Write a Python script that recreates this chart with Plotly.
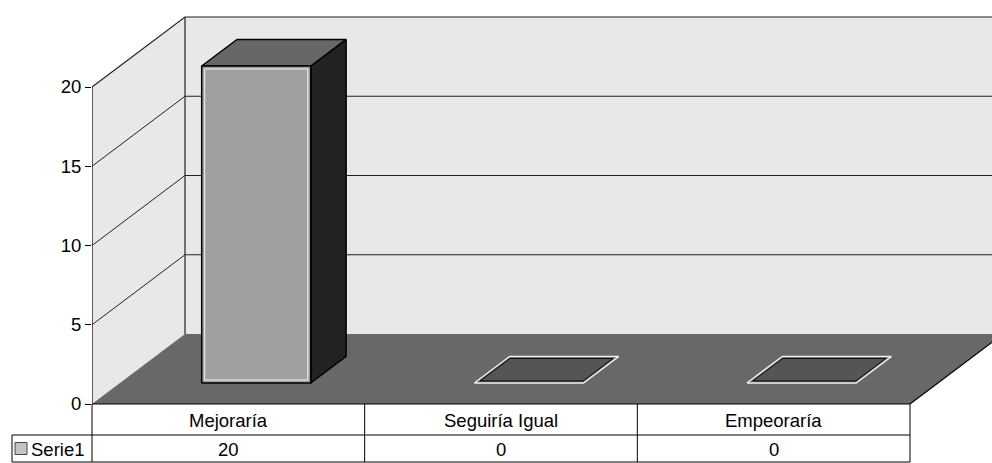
import plotly.graph_objects as go

# ---- data -------------------------------------------------------------
categories = ["Mejoraría", "Seguiría Igual", "Empeoraría"]
serie1 = [20, 0, 0]
series_name = "Serie1"
y_ticks = [0, 5, 10, 15, 20]

# ---- layout constants ---------------------------------------------------
W, H = 992, 463
M_L, M_B = 92, 59
PLOT_W, PLOT_H = W - M_L, H - M_B
CAT_PX = 818 / 3            # pixels per category along the front plane
VAL_PX = 317 / 20           # pixels per value unit
X_MAX = PLOT_W / CAT_PX
Y_MAX = PLOT_H / VAL_PX
DEPTH_X = 93 / CAT_PX       # oblique depth offset (category units)
DEPTH_V = 70 / VAL_PX       # oblique depth offset (value units)
WALL_TOP = y_ticks[-1]
BAR_W = 0.4
D_FRONT, D_BACK = 0.30, 0.68

FONT = "Liberation Sans, Arial, sans-serif"
TEXT_SIZE = 18.5
WALL = "#e8e8e8"
FLOOR = "#686868"
BAR_FRONT = "#a0a0a0"
BAR_TOP = "#676767"
BAR_SIDE = "#232323"
FLAT_BAR = "#555555"
GRID = "#222222"

n = len(categories)


def proj(x, v, d):
    """Oblique projection of (category, value, depth) onto the 2D axes."""
    return x + d * DEPTH_X, v + d * DEPTH_V


def poly(pts, fill=None, line_color="black", line_width=1.0):
    xs, ys = zip(*[proj(*p) for p in pts])
    xs, ys = list(xs), list(ys)
    if fill is not None:
        xs.append(xs[0])
        ys.append(ys[0])
    return go.Scatter(
        x=xs, y=ys, mode="lines",
        fill="toself" if fill is not None else None,
        fillcolor=fill,
        line=dict(color=line_color, width=line_width),
        hoverinfo="skip", showlegend=False,
    )


traces = []

# back wall and left wall
traces.append(poly([(0, 0, 1), (n, 0, 1), (n, WALL_TOP, 1), (0, WALL_TOP, 1)],
                   fill=WALL, line_width=0))
traces.append(poly([(0, 0, 0), (0, 0, 1), (0, WALL_TOP, 1), (0, WALL_TOP, 0)],
                   fill=WALL, line_width=0))

# gridlines on the walls
for t in y_ticks[1:-1]:
    traces.append(poly([(0, t, 0), (0, t, 1), (n, t, 1)], line_color=GRID, line_width=1))
# wall edges
traces.append(poly([(0, WALL_TOP, 0), (0, WALL_TOP, 1), (n, WALL_TOP, 1)],
                   line_color=GRID, line_width=1.2))
traces.append(poly([(0, 0, 1), (0, WALL_TOP, 1)], line_color=GRID, line_width=1.2))
traces.append(poly([(0, 0, 0), (0, WALL_TOP, 0)], line_color="black", line_width=1.2))

# floor
traces.append(poly([(0, 0, 0), (n, 0, 0), (n, 0, 1), (0, 0, 1)],
                   fill=FLOOR, line_width=0))
traces.append(poly([(n, 0, 0), (n, 0, 1)], line_color="black", line_width=1.2))

# bars
ex, ev = 3 / CAT_PX, 3 / VAL_PX
for i, v in enumerate(serie1):
    x0 = i + 0.5 - BAR_W / 2
    x1 = i + 0.5 + BAR_W / 2
    if v > 0:
        traces.append(poly([(x1, 0, D_FRONT), (x1, 0, D_BACK), (x1, v, D_BACK), (x1, v, D_FRONT)],
                           fill=BAR_SIDE, line_width=1.5))
        traces.append(poly([(x0, v, D_FRONT), (x1, v, D_FRONT), (x1, v, D_BACK), (x0, v, D_BACK)],
                           fill=BAR_TOP, line_width=1.5))
        traces.append(poly([(x0, 0, D_FRONT), (x1, 0, D_FRONT), (x1, v, D_FRONT), (x0, v, D_FRONT)],
                           fill=BAR_FRONT, line_width=1.5))
        traces.append(poly([(x0 + ex, ev, D_FRONT), (x1 - ex, ev, D_FRONT),
                            (x1 - ex, v - ev, D_FRONT), (x0 + ex, v - ev, D_FRONT)],
                           fill="rgba(0,0,0,0)", line_color="#f2f2f2", line_width=1))
    else:
        traces.append(poly([(x0, v, D_FRONT), (x1, v, D_FRONT), (x1, v, D_BACK), (x0, v, D_BACK)],
                           fill=FLAT_BAR, line_color="#f0f0f0", line_width=1.5))
        traces.append(poly([(x0 + ex, v, D_FRONT + 0.03), (x1 - ex, v, D_FRONT + 0.03),
                            (x1 - ex, v, D_BACK - 0.03), (x0 + ex, v, D_BACK - 0.03)],
                           fill="rgba(0,0,0,0)", line_color="#111111", line_width=1))

fig = go.Figure(traces)

# ---- data table under the chart -----------------------------------------
ROW1, ROW2 = 31, 27
LEG_LEFT = 12


def paper_x(px):
    return (px - M_L) / PLOT_W


def paper_y(px_below):
    return -px_below / PLOT_H


def cat_paper(c):
    return c / X_MAX


shapes = []
line = dict(color="black", width=1)
# horizontal rules
shapes.append(dict(type="line", xref="paper", yref="paper",
                   x0=0, x1=cat_paper(n), y0=0, y1=0, line=line))
for yb in (ROW1, ROW1 + ROW2):
    shapes.append(dict(type="line", xref="paper", yref="paper",
                       x0=paper_x(LEG_LEFT), x1=cat_paper(n),
                       y0=paper_y(yb), y1=paper_y(yb), line=line))
# vertical rules
for c in range(n + 1):
    shapes.append(dict(type="line", xref="paper", yref="paper",
                       x0=cat_paper(c), x1=cat_paper(c),
                       y0=0, y1=paper_y(ROW1 + ROW2), line=line))
shapes.append(dict(type="line", xref="paper", yref="paper",
                   x0=paper_x(LEG_LEFT), x1=paper_x(LEG_LEFT),
                   y0=paper_y(ROW1), y1=paper_y(ROW1 + ROW2), line=line))
# legend key
shapes.append(dict(type="rect", xref="paper", yref="paper",
                   x0=paper_x(15), x1=paper_x(27),
                   y0=paper_y(ROW1 + 7.5), y1=paper_y(ROW1 + 19.5),
                   fillcolor="#c4c4c4", line=dict(color="#444444", width=1)))

annotations = []
for i, (cat, val) in enumerate(zip(categories, serie1)):
    annotations.append(dict(text=cat, x=cat_paper(i + 0.5), y=paper_y(ROW1 / 2 + 1),
                            xref="paper", yref="paper", showarrow=False,
                            xanchor="center", yanchor="middle",
                            font=dict(family=FONT, size=TEXT_SIZE, color="black")))
    annotations.append(dict(text=str(val), x=cat_paper(i + 0.5), y=paper_y(ROW1 + ROW2 / 2 + 1),
                            xref="paper", yref="paper", showarrow=False,
                            xanchor="center", yanchor="middle",
                            font=dict(family=FONT, size=TEXT_SIZE, color="black")))
annotations.append(dict(text=series_name, x=paper_x(29), y=paper_y(ROW1 + ROW2 / 2 + 1),
                        xref="paper", yref="paper", showarrow=False,
                        xanchor="left", yanchor="middle",
                        font=dict(family=FONT, size=TEXT_SIZE, color="black")))

fig.update_layout(
    width=W, height=H,
    margin=dict(l=M_L, r=0, t=0, b=M_B, pad=0),
    paper_bgcolor="white", plot_bgcolor="white",
    showlegend=False,
    xaxis=dict(range=[0, X_MAX], visible=False, fixedrange=True),
    yaxis=dict(range=[0, Y_MAX], tickmode="array", tickvals=y_ticks,
               ticks="outside", ticklen=6, tickwidth=1, tickcolor="black",
               showgrid=False, zeroline=False, showline=False,
               tickfont=dict(family=FONT, size=TEXT_SIZE, color="black"),
               fixedrange=True),
    shapes=shapes,
    annotations=annotations,
)

fig.write_html("out.html")
